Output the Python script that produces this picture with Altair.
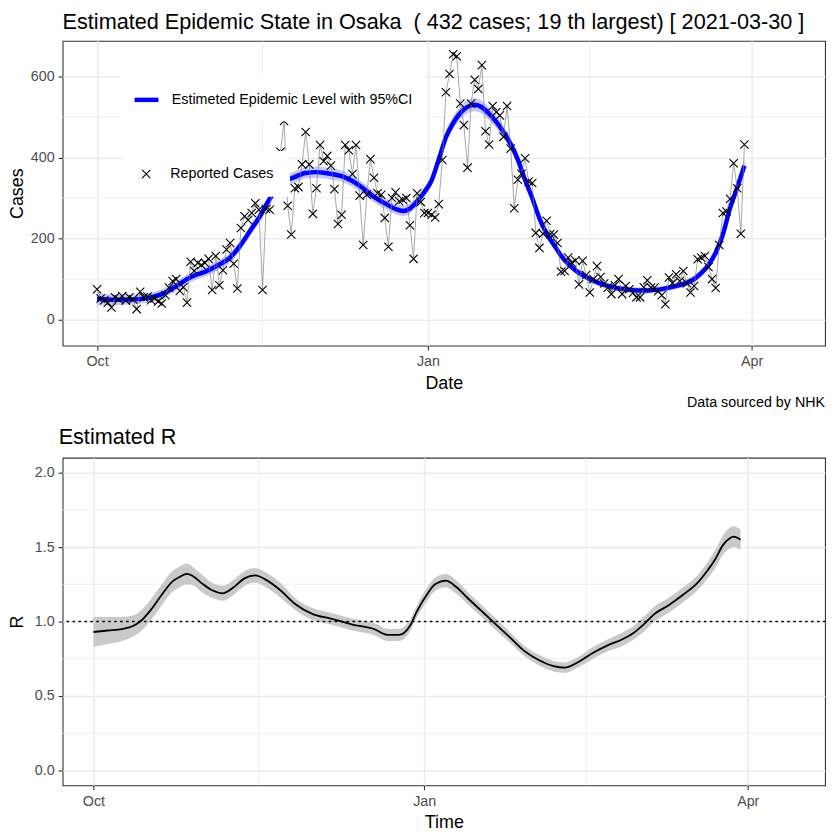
import altair as alt
import pandas as pd

START = "2020-10-01"
TITLE_TOP = "Estimated Epidemic State in Osaka\u00a0 ( 432 cases; 19 th largest) [ 2021-03-30 ]"
TITLE_BOTTOM = "Estimated R"
CAPTION = "Data sourced by NHK"
LEVEL_NAME = "Estimeted Epidemic Level with 95%CI"
CASES_NAME = "Reported Cases"

# daily reported cases, 2020-10-01 .. 2021-03-30
cases = [
    # Oct
    75, 52, 48, 42, 30, 55, 50, 58, 47, 55, 50, 26, 69, 55, 57, 48, 52, 45, 40, 60,
    79, 95, 100, 71, 80, 42, 143, 120, 140, 135, 140,
    # Nov
    150, 73, 157, 85, 122, 173, 189, 138, 77, 226, 255, 246, 263, 287, 271, 73, 273, 271, 338, 370,
    414, 490, 281, 210, 324, 327, 383, 463, 383, 261,
    # Dec
    324, 431, 391, 404, 380, 322, 236, 259, 431, 418, 359, 431, 306, 184, 308, 396, 350, 312, 308, 251,
    180, 300, 314, 292, 296, 300, 233, 150, 312, 290, 263,
    # Jan
    263, 259, 252, 285, 394, 561, 606, 655, 650, 533, 480, 375, 533, 592, 569, 628, 465, 432, 527, 512,
    504, 451, 527, 422, 275, 345, 360, 398, 341, 337, 214,
    # Feb
    177, 212, 244, 211, 210, 189, 118, 120, 153, 140, 146, 87, 145, 110, 67, 100, 132, 105, 89, 79,
    63, 85, 100, 63, 83, 75, 66, 55,
    # Mar
    55, 80, 97, 79, 79, 70, 60, 38, 104, 90, 112, 95, 120, 90, 67, 83, 149, 153, 157, 130,
    100, 78, 184, 263, 267, 298, 386, 324, 212, 432,
]

# estimated epidemic level (days since 2020-10-01)
level_day = [0, 5, 10, 15, 18, 20, 23, 25, 28, 30, 34, 37, 40, 43, 45, 48, 51, 55, 58, 61,
             64, 68, 71, 74, 77, 80, 83, 85, 87, 89, 91, 93, 95, 97, 99, 101, 103, 105, 107, 109,
             111, 113, 115, 117, 119, 121, 123, 125, 127, 129, 131, 133, 136, 138, 141, 144, 147, 150, 153, 156,
             160, 163, 166, 168, 170, 172, 174, 176, 178, 180]
level_val = [51, 49, 50, 55, 63, 72, 88, 100, 112, 118, 136, 153, 185, 225, 251, 298, 334, 352, 362, 364,
             361, 354, 342, 324, 303, 287, 273, 268, 274, 292, 315, 343, 395, 450, 485, 510, 525, 530, 524, 508,
             488, 463, 433, 395, 345, 300, 250, 212, 185, 158, 138, 122, 105, 96, 86, 79, 75, 72, 72, 74,
             81, 88, 100, 115, 135, 165, 210, 275, 326, 380]
level_hw = [16, 13, 12, 12, 12, 12, 12, 12, 12, 12, 12, 12, 12, 13, 13, 13, 14, 14, 14, 14,
            14, 14, 14, 14, 14, 13, 13, 13, 13, 13, 13, 14, 15, 16, 16, 16, 16, 16, 16, 16,
            16, 15, 15, 15, 14, 13, 12, 11, 10, 10, 9, 9, 8, 8, 8, 8, 8, 8, 8, 8,
            8, 9, 10, 10, 11, 12, 13, 14, 14, 14]

# estimated R
r_day = [0, 4, 8, 11, 13, 16, 19, 22, 24, 26, 28, 30, 33, 36, 39, 42, 45, 48, 52, 56,
         61, 66, 72, 78, 82, 85, 88, 90, 93, 95, 98, 101, 104, 108, 112, 116, 120, 124, 128, 131,
         135, 139, 143, 147, 150, 153, 156, 160, 164, 168, 171, 173, 175, 177, 178, 180]
r_val = [0.93, 0.94, 0.95, 0.97, 1.00, 1.08, 1.18, 1.27, 1.30, 1.32, 1.30, 1.26, 1.21, 1.19, 1.23, 1.29, 1.31, 1.28, 1.21, 1.12,
         1.05, 1.02, 0.98, 0.95, 0.91, 0.91, 0.97, 1.07, 1.19, 1.25, 1.275, 1.23, 1.16, 1.07, 0.98, 0.89, 0.80, 0.74, 0.70, 0.69,
         0.73, 0.79, 0.84, 0.88, 0.92, 0.98, 1.05, 1.11, 1.18, 1.26, 1.35, 1.42, 1.51, 1.56, 1.57, 1.55]
r_hw = [0.10, 0.09, 0.08, 0.07, 0.07, 0.07, 0.07, 0.07, 0.07, 0.07, 0.06, 0.06, 0.05, 0.05, 0.05, 0.05, 0.05, 0.05, 0.05, 0.04,
        0.04, 0.04, 0.04, 0.04, 0.04, 0.04, 0.04, 0.04, 0.045, 0.045, 0.045, 0.045, 0.04, 0.04, 0.04, 0.035, 0.035, 0.035, 0.035, 0.035,
        0.035, 0.04, 0.04, 0.045, 0.045, 0.05, 0.05, 0.05, 0.05, 0.05, 0.055, 0.06, 0.065, 0.07, 0.07, 0.07]

x_minor = ["2020-11-16", "2021-02-15"]
y_ticks_cases = [0, 200, 400, 600]
y_minor_cases = [100, 300, 500]
y_ticks_r = [0.0, 0.5, 1.0, 1.5, 2.0]
y_minor_r = [0.25, 0.75, 1.25, 1.75]
r_ref = [1.0]

FONT = "Liberation Sans"
t0 = pd.Timestamp(START)


def to_dates(days):
    return t0 + pd.to_timedelta(days, unit="D")


df_cases = pd.DataFrame({"date": pd.date_range(START, periods=len(cases), freq="D"),
                         "cases": cases, "series": CASES_NAME})
df_level = pd.DataFrame({"date": to_dates(level_day), "level": level_val,
                         "lo": [v - h for v, h in zip(level_val, level_hw)],
                         "hi": [v + h for v, h in zip(level_val, level_hw)],
                         "series": LEVEL_NAME})
df_r = pd.DataFrame({"date": to_dates(r_day), "R": r_val,
                     "lo": [v - h for v, h in zip(r_val, r_hw)],
                     "hi": [v + h for v, h in zip(r_val, r_hw)]})
df_xminor = pd.DataFrame({"date": pd.to_datetime(x_minor)})

x_domain_top = [alt.DateTime(year=2020, month=9, date=21, hours=10),
                alt.DateTime(year=2021, month=4, date=21, hours=10)]
x_domain_bot = [alt.DateTime(year=2020, month=9, date=22, hours=10),
                alt.DateTime(year=2021, month=4, date=22, hours=12)]
x_ticks = [alt.DateTime(year=2020, month=10, date=1),
           alt.DateTime(year=2021, month=1, date=1),
           alt.DateTime(year=2021, month=4, date=1)]

W = 768
H_TOP = 307
H_BOT = 330
GRID = "#EBEBEB"


def x_enc(title, domain):
    return alt.X("date:T", title=title, scale=alt.Scale(domain=domain),
                 axis=alt.Axis(values=x_ticks, format="%b", title=title))


def xt():
    return x_enc("Date", x_domain_top)


def xb():
    return x_enc("Time", x_domain_bot)


y_cases_scale = alt.Scale(domain=[-64, 688], nice=False, zero=False)
y_cases_axis = alt.Axis(values=y_ticks_cases, title="Cases", titlePadding=3.5)
y_r_scale = alt.Scale(domain=[-0.1, 2.1], nice=False, zero=False)
y_r_axis = alt.Axis(values=y_ticks_r, format=".1f", title="R", titlePadding=7.5)


def ycas(field):
    return alt.Y(field, scale=y_cases_scale, axis=y_cases_axis, title="Cases")


def yr(field):
    return alt.Y(field, scale=y_r_scale, axis=y_r_axis, title="R")


XPATH = "M-1,-1L1,1M-1,1L1,-1"

# ---------- top panel ----------
top_minor_h = alt.Chart(pd.DataFrame({"v": y_minor_cases})).mark_rule(
    color=GRID, strokeWidth=0.8).encode(y=ycas("v:Q"))
top_minor_v = alt.Chart(df_xminor).mark_rule(color=GRID, strokeWidth=0.8).encode(x=xt())

band = alt.Chart(df_level).mark_area(color="#0000FF", opacity=0.22, interpolate="monotone").encode(
    x=xt(), y=ycas("lo:Q"), y2="hi:Q")

level_line = alt.Chart(df_level).mark_line(strokeWidth=4.5, interpolate="monotone").encode(
    x=xt(), y=ycas("level:Q"),
    color=alt.Color("series:N", scale=alt.Scale(domain=[LEVEL_NAME], range=["#0000FF"]),
                    legend=alt.Legend(title=None, orient="none", legendX=58, legendY=33,
                                      padding=12, fillColor="white", symbolType="stroke",
                                      symbolSize=576, symbolStrokeWidth=4.5, labelOffset=11,
                                      labelLimit=0,
                                      labelFontSize=14.4, labelFont=FONT, labelColor="black")))

cases_line = alt.Chart(df_cases).mark_line(color="#7F7F7F", strokeWidth=0.7).encode(
    x=xt(), y=ycas("cases:Q"))

cases_pts = alt.Chart(df_cases).mark_point(filled=False, color="black", strokeWidth=1.1,
                                            size=70, opacity=1).encode(
    x=xt(), y=ycas("cases:Q"),
    shape=alt.Shape("series:N", scale=alt.Scale(domain=[CASES_NAME], range=[XPATH]),
                    legend=alt.Legend(title=None, orient="none", legendX=61, legendY=111,
                                      padding=16, fillColor="white", symbolSize=70,
                                      symbolStrokeColor="black", symbolStrokeWidth=1.1,
                                      symbolFillColor="transparent", labelOffset=17,
                                      labelLimit=0,
                                      labelFontSize=14.4, labelFont=FONT, labelColor="black")))

caption = alt.Chart(pd.DataFrame({"t": [CAPTION]})).mark_text(
    align="right", baseline="middle", fontSize=14.4, font=FONT, color="black").encode(
    x=alt.value(W), y=alt.value(H_TOP + 58), text="t:N")

top_title = alt.Chart(pd.DataFrame({"t": [TITLE_TOP]})).mark_text(
    align="left", baseline="middle", fontSize=21.8, font=FONT, color="black").encode(
    x=alt.value(0), y=alt.value(-19), text="t:N")

top = alt.layer(top_minor_h, top_minor_v, band, level_line, cases_line, cases_pts,
                caption, top_title).properties(width=W, height=H_TOP)

# ---------- bottom panel ----------
bot_minor_h = alt.Chart(pd.DataFrame({"v": y_minor_r})).mark_rule(
    color=GRID, strokeWidth=0.8).encode(y=yr("v:Q"))
bot_minor_v = alt.Chart(df_xminor).mark_rule(color=GRID, strokeWidth=0.8).encode(x=xb())

r_band = alt.Chart(df_r).mark_area(color="#C9C9C9", interpolate="monotone").encode(
    x=xb(), y=yr("lo:Q"), y2="hi:Q")
r_line = alt.Chart(df_r).mark_line(color="black", strokeWidth=1.8, interpolate="monotone").encode(
    x=xb(), y=yr("R:Q"))
r_rule = alt.Chart(pd.DataFrame({"r": r_ref})).mark_rule(
    color="black", strokeWidth=1.4, strokeDash=[1.5, 4.5], strokeCap="round").encode(y=yr("r:Q"))

bot_title = alt.Chart(pd.DataFrame({"t": [TITLE_BOTTOM]})).mark_text(
    align="left", baseline="middle", fontSize=21.8, font=FONT, color="black").encode(
    x=alt.value(-4), y=alt.value(-21), text="t:N")

bottom = alt.layer(bot_minor_h, bot_minor_v, r_band, r_line, r_rule, bot_title).properties(
    width=W, height=H_BOT)

chart = alt.vconcat(top, bottom, spacing=16).configure(
    font=FONT, background="white", padding={"left": 0, "top": 0, "right": 5, "bottom": 5}
).configure_view(stroke="#333333", strokeWidth=1.1).configure_axis(
    grid=True, gridColor=GRID, gridWidth=1.5, domain=False,
    tickColor="#333333", tickSize=4.5, tickWidth=1.1,
    labelColor="#4D4D4D", labelFontSize=14.4, labelFont=FONT,
    titleColor="black", titleFontSize=18, titleFont=FONT, titleFontWeight="normal"
).configure_axisX(labelPadding=5, titlePadding=6).configure_axisY(labelPadding=4)

chart.save("out.html", embed_options={"renderer": "svg", "actions": False})
